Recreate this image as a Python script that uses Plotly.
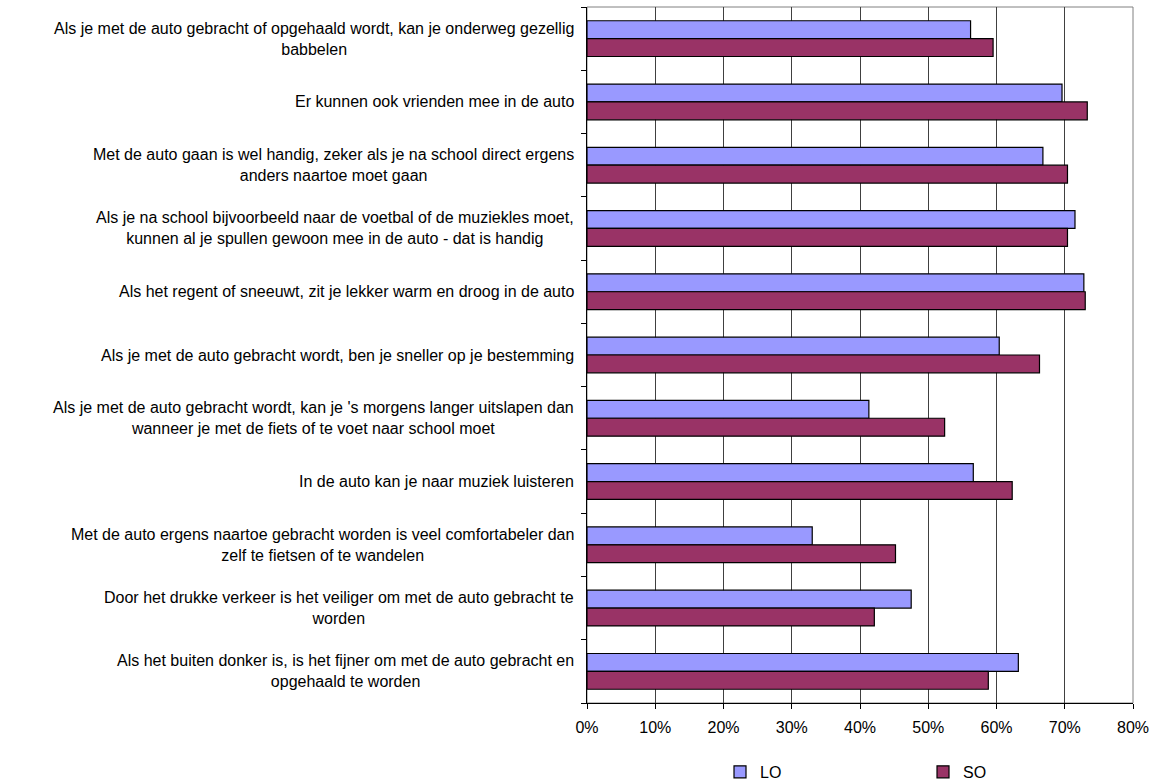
import plotly.graph_objects as go

categories = [
    "Als je met de auto gebracht of opgehaald wordt, kan je onderweg gezellig<br>babbelen",
    "Er kunnen ook vrienden mee in de auto",
    "Met de auto gaan is wel handig, zeker als je na school direct ergens<br>anders naartoe moet gaan",
    "Als je na school bijvoorbeeld naar de voetbal of de muziekles moet,<br>kunnen al je spullen gewoon mee in de auto - dat is handig",
    "Als het regent of sneeuwt, zit je lekker warm en droog in de auto",
    "Als je met de auto gebracht wordt, ben je sneller op je bestemming",
    "Als je met de auto gebracht wordt, kan je 's morgens langer uitslapen dan<br>wanneer je met de fiets of te voet naar school moet",
    "In de auto kan je naar muziek luisteren",
    "Met de auto ergens naartoe gebracht worden is veel comfortabeler dan<br>zelf te fietsen of te wandelen",
    "Door het drukke verkeer is het veiliger om met de auto gebracht te<br>worden",
    "Als het buiten donker is, is het fijner om met de auto gebracht en<br>opgehaald te worden",
]
lo_values = [0.562, 0.696, 0.668, 0.715, 0.728, 0.604, 0.413, 0.566, 0.330, 0.475, 0.632]
so_values = [0.595, 0.733, 0.704, 0.704, 0.730, 0.663, 0.524, 0.623, 0.452, 0.421, 0.588]
series_names = ["LO", "SO"]
x_ticks = [0, 0.1, 0.2, 0.3, 0.4, 0.5, 0.6, 0.7, 0.8]

FONT = "Liberation Sans, Arial, sans-serif"
FS = 16
ids = list(range(len(categories)))

fig = go.Figure()
fig.add_trace(go.Bar(
    y=ids, x=lo_values, name=series_names[0], orientation="h",
    marker=dict(color="#9999FF", line=dict(color="#000000", width=1.2)),
    legend="legend",
))
fig.add_trace(go.Bar(
    y=ids, x=so_values, name=series_names[1], orientation="h",
    marker=dict(color="#993366", line=dict(color="#000000", width=1.2)),
    legend="legend2",
))

annotations = []
for i, c in enumerate(categories):
    annotations.append(dict(
        x=0, xref="paper", y=i, yref="y", text=c, showarrow=False,
        xanchor="right", yanchor="middle", align="center", xshift=-11,
        font=dict(family=FONT, size=FS, color="#000000"),
    ))

legend_common = dict(
    orientation="h", yanchor="middle", y=-0.099, xanchor="left",
    font=dict(family=FONT, size=FS, color="#000000"), itemwidth=30,
    bgcolor="rgba(0,0,0,0)",
)

fig.update_layout(
    width=1157, height=783,
    margin=dict(l=587, r=24, t=7, b=80, autoexpand=False),
    paper_bgcolor="white", plot_bgcolor="white",
    barmode="group", bargap=0.435, bargroupgap=0,
    font=dict(family=FONT, size=FS, color="#000000"),
    showlegend=True,
    legend=dict(x=0.2436, **legend_common),
    legend2=dict(x=0.6154, **legend_common),
    annotations=annotations,
    shapes=[dict(type="rect", xref="paper", yref="paper", x0=0, x1=1, y0=0, y1=1,
                 line=dict(color="#808080", width=1), layer="below")],
)
fig.update_xaxes(
    range=[0, 0.8], tickvals=x_ticks, tickformat=".0%",
    showgrid=True, gridcolor="#404040", gridwidth=1,
    showline=True, linecolor="#000000", linewidth=1,
    ticks="outside", ticklen=5, tickcolor="#000000",
    ticklabelstandoff=5, ticklabeloverflow="allow",
    zeroline=False, fixedrange=True,
    tickfont=dict(family=FONT, size=FS),
)
fig.update_yaxes(
    range=[len(categories) - 0.5, -0.5], showticklabels=False,
    tickvals=[i + 0.5 for i in range(-1, len(categories))],
    showgrid=False, showline=True, linecolor="#000000", linewidth=1,
    ticks="outside", ticklen=5, tickcolor="#000000", zeroline=False,
    fixedrange=True,
)

fig.write_html(
    "out.html",
    config={"displayModeBar": False},
    post_script="document.body.style.margin='0';document.body.style.overflow='hidden';",
)
